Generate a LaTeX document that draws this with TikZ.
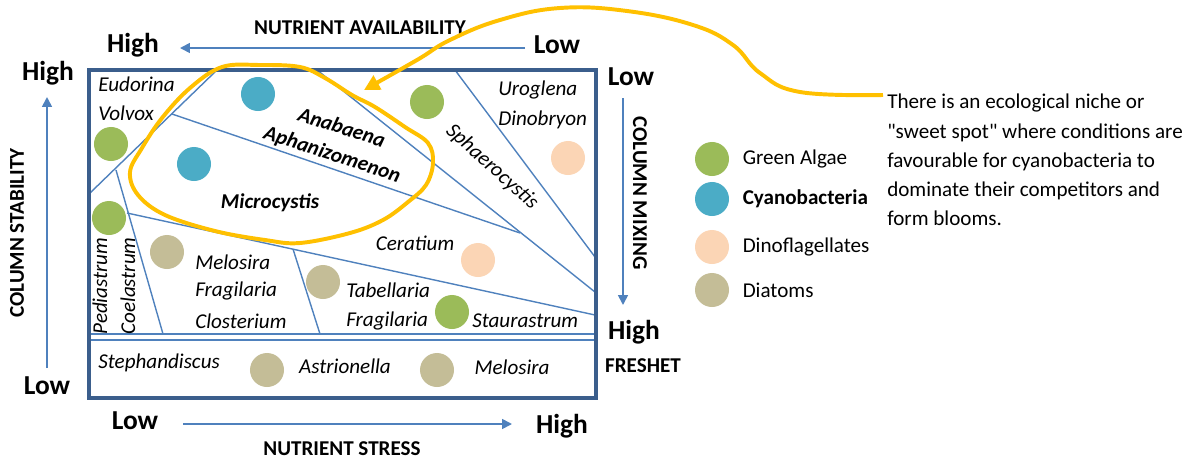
\documentclass[tikz,border=0pt]{standalone}
\usepackage{fontspec}
\setmainfont{Carlito}
\newfontfamily\notefont{Carlito}
\usepackage{xcolor}
\usepackage{tikz}
\usetikzlibrary{arrows.meta,shapes}
\usetikzlibrary{positioning}

\definecolor{framblue}{HTML}{3B5E8C}
\definecolor{zoneblue}{HTML}{4F81BD}
\definecolor{greenalgae}{HTML}{9BBB59}
\definecolor{cyanobact}{HTML}{4BACC6}
\definecolor{dinoflag}{HTML}{FBD5B5}
\definecolor{diatom}{HTML}{C4BD97}
\definecolor{nicheyellow}{HTML}{FFC000}

\begin{document}
\begin{tikzpicture}[x=0.025cm, y=-0.025cm, node distance=0.33cm]
\tikzstyle{species} = [font=\fontsize{15}{18}\selectfont\itshape, inner sep=0pt]
\tikzstyle{cyanolabel} = [font=\fontsize{15}{18}\selectfont\bfseries\itshape, inner sep=0pt]
\tikzstyle{levellabel} = [font=\fontsize{19.5}{23}\selectfont\bfseries, inner sep=0pt]
\tikzstyle{axislabel} = [font=\fontsize{15}{18}\selectfont\bfseries, inner sep=0pt]
\tikzstyle{legendlabel} = [font=\fontsize{15}{18}\selectfont, inner sep=0pt, anchor=west]
\tikzstyle{dot} = [circle, minimum size=0.85cm, inner sep=0pt]
\tikzstyle{zone} = [draw=zoneblue, line width=1pt]
\tikzstyle{axisarrow} = [draw=zoneblue, line width=1.2pt, -{Triangle[length=7pt, width=7pt]}]
\useasboundingbox (0,0) rectangle (1199,461);

% zone boundaries
\draw [zone] (217,70) -- (90,193);
\draw [zone] (172,114) -- (520,233);
\draw [zone] (317,70) -- (595,292);
\draw [zone] (455,70) -- (595,257);
\draw [zone] (127,213) -- (595,315);
\draw [zone] (116,170) -- (163,334);
\draw [zone] (293,249) -- (320,334);
\draw [zone] (90,334) -- (595,334);
\draw [zone] (90,340) -- (595,340);
\draw [framblue, line width=2.8pt] (89,70) rectangle (596,398);

% groups
\node (cyanTop) [dot, fill=cyanobact] at (258,94) {};
\node (cyanMid) [dot, fill=cyanobact] at (194,164) {};
\node (greenVolvox) [dot, fill=greenalgae] at (111,144) {};
\node (greenPedia) [dot, fill=greenalgae] at (109,218) {};
\node (greenSphaero) [dot, fill=greenalgae] at (427,102) {};
\node (greenStaur) [dot, fill=greenalgae] at (452,312) {};
\node (dinoUro) [dot, fill=dinoflag] at (568,158) {};
\node (dinoCerat) [dot, fill=dinoflag] at (478,260) {};
\node (diaMelo) [dot, fill=diatom] at (167,252) {};
\node (diaTabel) [dot, fill=diatom] at (323,282) {};
\node (diaAstrio) [dot, fill=diatom] at (267,370) {};
\node (diaMeloB) [dot, fill=diatom] at (437,370) {};

% species
\node (eudorina) [species, anchor=west] at (98,84) {Eudorina};
\node (volvox) [species, anchor=west] at (98,113) {Volvox};
\node (anabaena) [cyanolabel, rotate=-18] at (342,127) {Anabaena};
\node (aphanizo) [cyanolabel, rotate=-18] at (332,155) {Aphanizomenon};
\node (microcys) [cyanolabel] at (270,203) {Microcystis};
\node (sphaero) [species, rotate=-42] at (492,167) {Sphaerocystis};
\node (uroglena) [species, anchor=west] at (498,90) {Uroglena};
\node (dinobryon) [species, anchor=west] at (498,120) {Dinobryon};
\node (ceratium) [species] at (415,243) {Ceratium};
\node (pediast) [species, rotate=90] at (100,286) {Pediastrum};
\node (coelast) [species, rotate=90] at (128,286) {Coelastrum};
\node (melosira) [species, anchor=west] at (195,262) {Melosira};
\node (fragilA) [species, anchor=west] at (195,291) {Fragilaria};
\node (closter) [species, anchor=west] at (195,321) {Closterium};
\node (tabell) [species, anchor=west] at (346,290) {Tabellaria};
\node (fragilB) [species, anchor=west] at (346,321) {Fragilaria};
\node (staur) [species, anchor=west] at (472,321) {Staurastrum};
\node (stephan) [species, anchor=west] at (98,363) {Stephandiscus};
\node (astrio) [species] at (345,366) {Astrionella};
\node (melosiraB) [species] at (512,367) {Melosira};

% axes
\node (availTitle) [axislabel] at (360,28) {NUTRIENT AVAILABILITY};
\node (availHigh) [levellabel] at (133,45) {High};
\node (availLow) [levellabel] at (557,45) {Low};
\coordinate (availStart) at (525,48);
\coordinate (availEnd) at (180,48);
\draw [axisarrow] (availStart) -- (availEnd);

\node (stabHigh) [levellabel] at (48,73) {High};
\node (stabLow) [levellabel] at (47,386) {Low};
\node (stabTitle) [axislabel, rotate=90] at (17,233) {COLUMN STABILITY};
\coordinate (stabStart) at (47,368);
\coordinate (stabEnd) at (47,97);
\draw [axisarrow] (stabStart) -- (stabEnd);

\node (mixLow) [levellabel] at (631,77) {Low};
\node (mixHigh) [levellabel] at (634,332) {High};
\node (freshet) [axislabel] at (643,366) {FRESHET};
\node (mixTitle) [axislabel, rotate=-90] at (640,193) {COLUMN MIXING};
\coordinate (mixStart) at (623,98);
\coordinate (mixEnd) at (623,305);
\draw [axisarrow] (mixStart) -- (mixEnd);

\node (stressLow) [levellabel] at (135,421) {Low};
\node (stressHigh) [levellabel] at (562,426) {High};
\node (stressTitle) [axislabel] at (342,449) {NUTRIENT STRESS};
\coordinate (stressStart) at (183,424);
\coordinate (stressEnd) at (512,424);
\draw [axisarrow] (stressStart) -- (stressEnd);

% legend
\node (lgGreen) [dot, fill=greenalgae] at (712,159) {};
\node (lgCyan) [dot, fill=cyanobact] at (712,199) {};
\node (lgDino) [dot, fill=dinoflag] at (712,247) {};
\node (lgDiatom) [dot, fill=diatom] at (712,290) {};
\node (lgGreenText) [legendlabel, right=of lgGreen] {Green Algae};
\node (lgCyanText) [legendlabel, right=of lgCyan] {\bfseries Cyanobacteria};
\node (lgDinoText) [legendlabel, right=of lgDino] {Dinoflagellates};
\node (lgDiatomText) [legendlabel, right=of lgDiatom] {Diatoms};

% sweet spot
\node (note) [anchor=north west, align=left, inner sep=0pt,
  font=\notefont\fontsize{15}{20.8}\selectfont] at (887,94)
  {There is an ecological niche or\\"sweet spot" where conditions are\\favourable for cyanobacteria to\\dominate their competitors and\\form blooms.};
\draw [nicheyellow, line width=2.8pt] plot [smooth cycle, tension=0.6] coordinates
  {(222,67) (260,65) (300,67) (325,78) (352,95) (375,107) (405,127) (428,143)
   (433,163) (426,185) (408,202) (383,220) (350,233) (300,243) (265,240)
   (215,231) (165,215) (138,195) (130,172) (142,148) (162,118) (190,88)};
\coordinate (noteEnd) at (883,95);
\coordinate (nicheTip) at (364,90);
\draw [nicheyellow, line width=2.8pt, -{Triangle[length=11pt, width=11pt]}]
  plot [smooth, tension=0.7] coordinates {(noteEnd) (800,92) (760,73) (733,45)
  (693,25) (627,11) (560,8) (500,20) (450,40) (417,60) (nicheTip)};
\end{tikzpicture}
\end{document}
